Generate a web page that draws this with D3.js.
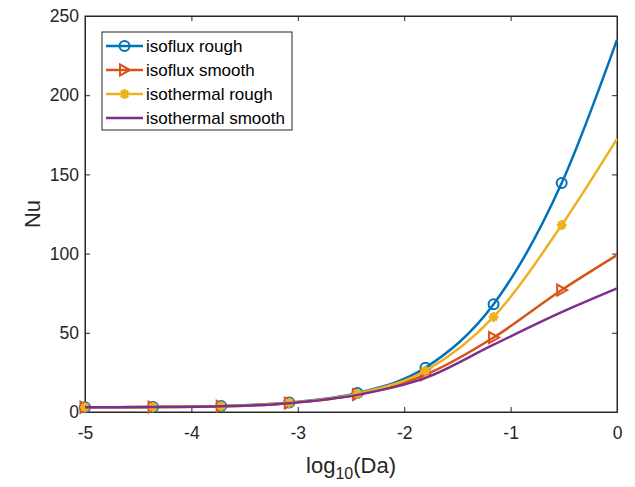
<!DOCTYPE html>
<html>
<head>
<meta charset="utf-8">
<script src="https://cdn.jsdelivr.net/npm/d3@7"></script>
<style>
  body { margin: 0; background: #fff; }
  svg { font-family: "Liberation Sans", Arial, sans-serif; }
</style>
</head>
<body>
<div id="chart"></div>
<script>
// log10(Da) sample points (markers on all but the last one)
var logDa = [-5, -4.36, -3.72, -3.08, -2.44, -1.8, -1.16, -0.52, 0];

var isofluxRough     = [3.0, 3.2, 3.8, 6.0, 12.0, 28.0, 68.0, 144.5, 235];
var isofluxSmooth    = [3.0, 3.1, 3.6, 5.6, 11.0, 23.5, 47.0, 77.0, 99];
var isothermalRough  = [3.0, 3.2, 3.7, 5.9, 11.6, 26.0, 60.0, 118.0, 172.5];
var isothermalSmooth = [3.0, 3.1, 3.6, 5.6, 10.8, 21.5, 42.5, 63.0, 78];

var seriesNames = ['isoflux rough', 'isoflux smooth', 'isothermal rough', 'isothermal smooth'];
var xTicks = [-5, -4, -3, -2, -1, 0];
var yTicks = [0, 50, 100, 150, 200, 250];

var width = 635,
	height = 487,
	margin = {top: 16, right: 18, bottom: 75, left: 85};

var colors = ['#0072BD', '#D95319', '#EDB120', '#7E2F8E'];
var markers = ['circle', 'tri', 'star', 'none'];

var svg = d3.select('#chart').append('svg')
	.attr('width', width)
	.attr('height', height);

var x = d3.scaleLinear().domain([-5, 0]).range([margin.left, width - margin.right]);
var y = d3.scaleLinear().domain([0, 250]).range([height - margin.bottom, margin.top]);

var axisColor = '#262626';

//Box around the plot
svg.append('rect')
	.attr('x', x(-5)).attr('y', y(250))
	.attr('width', x(0) - x(-5)).attr('height', y(0) - y(250))
	.attr('fill', 'none').attr('stroke', axisColor).attr('stroke-width', 1);

//Axes, ticks pointing inwards. Plain hyphen for negatives like the original
var fmt = function(d) { return String(d); };
var xAxis = svg.append('g')
	.attr('transform', 'translate(0,' + y(0) + ')')
	.call(d3.axisBottom(x).tickValues(xTicks).tickSizeInner(-5).tickSizeOuter(0).tickPadding(15).tickFormat(fmt));
var xAxisTop = svg.append('g')
	.attr('transform', 'translate(0,' + y(250) + ')')
	.call(d3.axisTop(x).tickValues(xTicks).tickSizeInner(-5).tickSizeOuter(0).tickFormat(''));
var yAxis = svg.append('g')
	.attr('transform', 'translate(' + x(-5) + ',0)')
	.call(d3.axisLeft(y).tickValues(yTicks).tickSizeInner(-5).tickSizeOuter(0).tickPadding(6).tickFormat(fmt));
var yAxisRight = svg.append('g')
	.attr('transform', 'translate(' + x(0) + ',0)')
	.call(d3.axisRight(y).tickValues(yTicks).tickSizeInner(-5).tickSizeOuter(0).tickFormat(''));

[xAxis, xAxisTop, yAxis, yAxisRight].forEach(function(g) {
	g.select('.domain').attr('stroke', axisColor);
	g.selectAll('.tick line').attr('stroke', axisColor);
	g.selectAll('.tick text')
		.attr('fill', axisColor)
		.style('font-size', '17.5px')
		.style('font-family', '"Liberation Sans", Arial, sans-serif');
});

//Axis labels
svg.append('text')
	.attr('x', (x(-5) + x(0)) / 2)
	.attr('y', 473)
	.attr('text-anchor', 'middle')
	.attr('fill', axisColor)
	.style('font-size', '22px')
	.call(function(t) {
		t.append('tspan').text('log');
		t.append('tspan').attr('dy', 6).style('font-size', '16px').text('10');
		t.append('tspan').attr('dy', -6).text('(Da)');
	});

svg.append('text')
	.attr('transform', 'translate(40,' + (y(125)) + ') rotate(-90)')
	.attr('text-anchor', 'middle')
	.attr('fill', axisColor)
	.style('font-size', '22px')
	.text('Nu');

//Lines
var line = d3.line()
	.x(function(d) { return x(d[0]); })
	.y(function(d) { return y(d[1]); })
	.curve(d3.curveMonotoneX);

var allSeries = [isofluxRough, isofluxSmooth, isothermalRough, isothermalSmooth];

function drawMarker(g, type, color, cx, cy) {
	if (type === 'circle') {
		g.append('circle').attr('cx', cx).attr('cy', cy).attr('r', 5)
			.attr('fill', 'none').attr('stroke', color).attr('stroke-width', 2);
	} else if (type === 'tri') {
		g.append('path')
			.attr('d', 'M' + (cx - 4.5) + ',' + (cy - 5.5) + 'L' + (cx + 5.5) + ',' + cy + 'L' + (cx - 4.5) + ',' + (cy + 5.5) + 'Z')
			.attr('fill', 'none').attr('stroke', color).attr('stroke-width', 2);
	} else if (type === 'star') {
		var s = 5, d = s * 0.7;
		g.append('path')
			.attr('d', 'M' + (cx - s) + ',' + cy + 'h' + (2 * s) +
				'M' + cx + ',' + (cy - s) + 'v' + (2 * s) +
				'M' + (cx - d) + ',' + (cy - d) + 'l' + (2 * d) + ',' + (2 * d) +
				'M' + (cx - d) + ',' + (cy + d) + 'l' + (2 * d) + ',' + (-2 * d))
			.attr('fill', 'none').attr('stroke', color).attr('stroke-width', 2.5);
		g.append('circle').attr('cx', cx).attr('cy', cy).attr('r', 3.5).attr('fill', color);
	}
}

//Plot in the original order: blue, orange, yellow, purple on top
allSeries.forEach(function(series, i) {
	var pts = logDa.map(function(v, k) { return [v, series[k]]; });
	var g = svg.append('g');
	g.append('path')
		.datum(pts)
		.attr('d', line)
		.attr('fill', 'none')
		.attr('stroke', colors[i])
		.attr('stroke-width', 2.5);
	pts.slice(0, pts.length - 1).forEach(function(p) {
		drawMarker(g, markers[i], colors[i], x(p[0]), y(p[1]));
	});
});

//Legend
var legend = svg.append('g');
legend.append('rect')
	.attr('x', 102).attr('y', 32)
	.attr('width', 190).attr('height', 98)
	.attr('fill', '#fff').attr('stroke', axisColor).attr('stroke-width', 1);

seriesNames.forEach(function(name, i) {
	var ly = 46 + i * 24;
	legend.append('line')
		.attr('x1', 106).attr('x2', 143)
		.attr('y1', ly).attr('y2', ly)
		.attr('stroke', colors[i]).attr('stroke-width', 2.5);
	drawMarker(legend, markers[i], colors[i], 124.5, ly);
	legend.append('text')
		.attr('x', 146).attr('y', ly + 6)
		.attr('fill', '#000')
		.style('font-size', '17px')
		.text(name);
});
</script>
</body>
</html>
